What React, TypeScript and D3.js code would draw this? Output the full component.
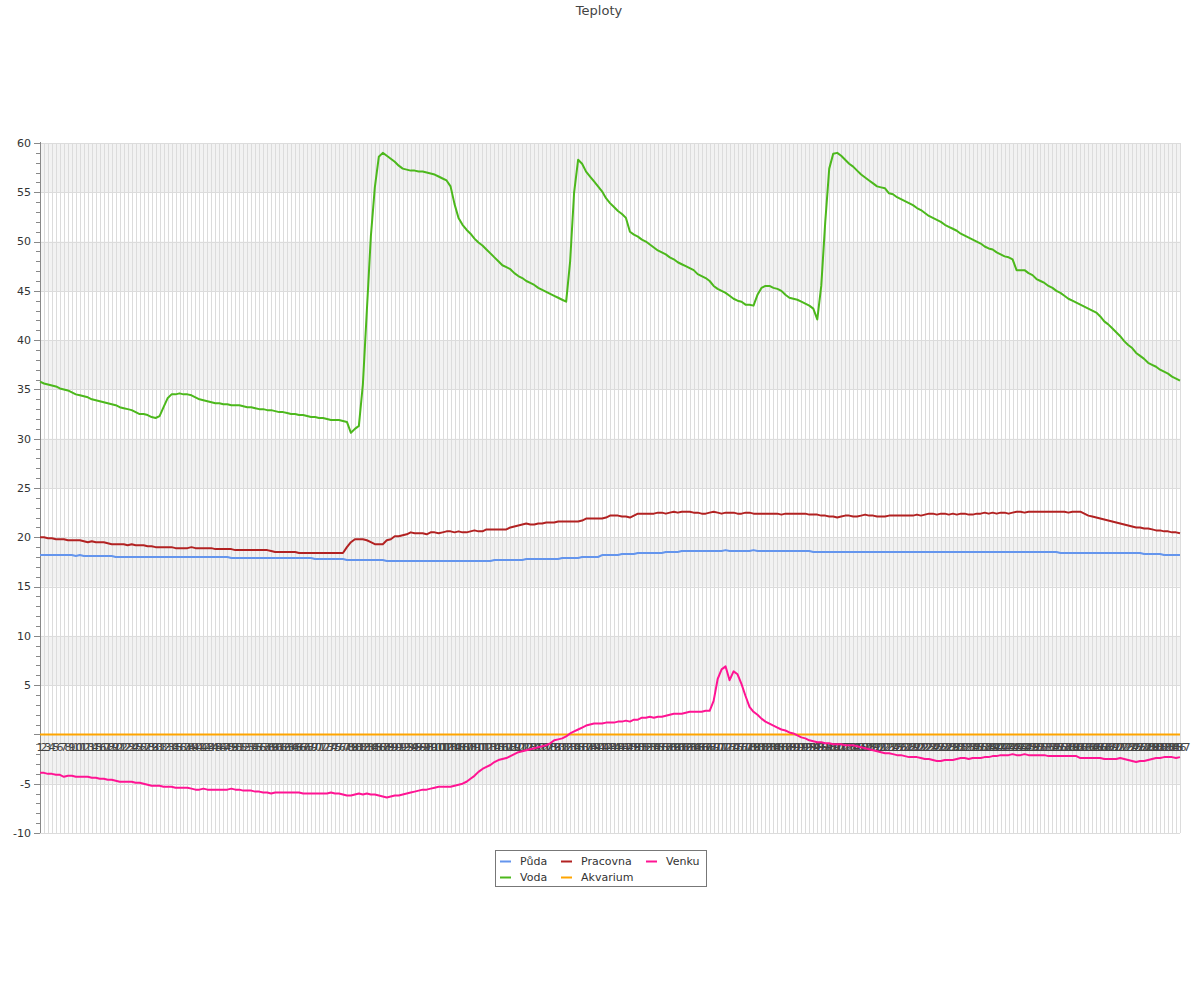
import React from "react";
import * as d3 from "d3";

const title = "Teploty";
const seriesNames = ["Půda", "Voda", "Pracovna", "Akvarium", "Venku"];
const seriesColors = ["#6495ed", "#4cb81c", "#b22222", "#ffa500", "#ff1493"];
const categories: string[] = d3.range(1, 288).map((d) => String(d));
const yTicksMajor = [-10, -5, 0, 5, 10, 15, 20, 25, 30, 35, 40, 45, 50, 55, 60];
const yLabelTicks = [-10, -5, 5, 10, 15, 20, 25, 30, 35, 40, 45, 50, 55, 60];

const puda = [
  18.2,18.2,18.2,18.2,18.2,18.2,18.2,18.2,18.2,18.1,
  18.2,18.1,18.1,18.1,18.1,18.1,18.1,18.1,18.1,18.0,
  18.0,18.0,18.0,18.0,18.0,18.0,18.0,18.0,18.0,18.0,
  18.0,18.0,18.0,18.0,18.0,18.0,18.0,18.0,18.0,18.0,
  18.0,18.0,18.0,18.0,18.0,18.0,18.0,18.0,17.9,17.9,
  17.9,17.9,17.9,17.9,17.9,17.9,17.9,17.9,17.9,17.9,
  17.9,17.9,17.9,17.9,17.9,17.9,17.9,17.9,17.9,17.8,
  17.8,17.8,17.8,17.8,17.8,17.8,17.8,17.7,17.7,17.7,
  17.7,17.7,17.7,17.7,17.7,17.7,17.7,17.6,17.6,17.6,
  17.6,17.6,17.6,17.6,17.6,17.6,17.6,17.6,17.6,17.6,
  17.6,17.6,17.6,17.6,17.6,17.6,17.6,17.6,17.6,17.6,
  17.6,17.6,17.6,17.6,17.7,17.7,17.7,17.7,17.7,17.7,
  17.7,17.7,17.8,17.8,17.8,17.8,17.8,17.8,17.8,17.8,
  17.8,17.9,17.9,17.9,17.9,17.9,18.0,18.0,18.0,18.0,
  18.0,18.2,18.2,18.2,18.2,18.2,18.3,18.3,18.3,18.3,
  18.4,18.4,18.4,18.4,18.4,18.4,18.4,18.5,18.5,18.5,
  18.5,18.6,18.6,18.6,18.6,18.6,18.6,18.6,18.6,18.6,
  18.6,18.6,18.7,18.6,18.6,18.6,18.6,18.6,18.6,18.7,
  18.6,18.6,18.6,18.6,18.6,18.6,18.6,18.6,18.6,18.6,
  18.6,18.6,18.6,18.6,18.5,18.5,18.5,18.5,18.5,18.5,
  18.5,18.5,18.5,18.5,18.5,18.5,18.5,18.5,18.5,18.5,
  18.5,18.5,18.5,18.5,18.5,18.5,18.5,18.5,18.5,18.5,
  18.5,18.5,18.5,18.5,18.5,18.5,18.5,18.5,18.5,18.5,
  18.5,18.5,18.5,18.5,18.5,18.5,18.5,18.5,18.5,18.5,
  18.5,18.5,18.5,18.5,18.5,18.5,18.5,18.5,18.5,18.5,
  18.5,18.5,18.5,18.5,18.5,18.5,18.4,18.4,18.4,18.4,
  18.4,18.4,18.4,18.4,18.4,18.4,18.4,18.4,18.4,18.4,
  18.4,18.4,18.4,18.4,18.4,18.4,18.4,18.3,18.3,18.3,
  18.3,18.3,18.2,18.2,18.2,18.2,18.2,
];

const voda = [
  35.8,35.6,35.5,35.4,35.3,35.1,35.0,34.9,34.7,34.5,
  34.4,34.3,34.2,34.0,33.9,33.8,33.7,33.6,33.5,33.4,
  33.2,33.1,33.0,32.9,32.7,32.5,32.5,32.4,32.2,32.1,
  32.3,33.2,34.1,34.5,34.5,34.6,34.5,34.5,34.4,34.2,
  34.0,33.9,33.8,33.7,33.6,33.6,33.5,33.5,33.4,33.4,
  33.4,33.3,33.2,33.2,33.1,33.0,33.0,32.9,32.9,32.8,
  32.7,32.7,32.6,32.5,32.5,32.4,32.4,32.3,32.2,32.2,
  32.1,32.1,32.0,31.9,31.9,31.9,31.8,31.7,30.6,31.0,
  31.3,35.5,43.0,50.5,55.5,58.6,59.0,58.7,58.4,58.1,
  57.7,57.4,57.3,57.2,57.2,57.1,57.1,57.0,56.9,56.8,
  56.6,56.4,56.2,55.6,53.8,52.4,51.7,51.2,50.8,50.3,
  49.9,49.6,49.2,48.8,48.4,48.0,47.6,47.4,47.2,46.8,
  46.5,46.3,46.0,45.8,45.6,45.3,45.1,44.9,44.7,44.5,
  44.3,44.1,43.9,48.0,55.0,58.3,57.9,57.1,56.6,56.1,
  55.6,55.1,54.4,53.9,53.5,53.1,52.8,52.4,51.0,50.7,
  50.5,50.2,50.0,49.7,49.4,49.1,48.9,48.7,48.4,48.2,
  47.9,47.7,47.5,47.3,47.1,46.7,46.5,46.3,46.0,45.5,
  45.2,45.0,44.8,44.5,44.2,44.0,43.9,43.6,43.6,43.5,
  44.6,45.3,45.5,45.5,45.3,45.2,45.0,44.6,44.3,44.2,
  44.1,43.9,43.7,43.5,43.2,42.1,45.5,52.0,57.4,58.9,
  59.0,58.7,58.3,57.9,57.6,57.2,56.8,56.5,56.2,55.9,
  55.6,55.5,55.4,54.9,54.8,54.5,54.3,54.1,53.9,53.7,
  53.4,53.2,52.9,52.6,52.4,52.2,52.0,51.7,51.5,51.3,
  51.1,50.8,50.6,50.4,50.2,50.0,49.8,49.5,49.3,49.2,
  48.9,48.7,48.5,48.4,48.2,47.1,47.1,47.1,46.8,46.6,
  46.2,46.0,45.8,45.5,45.3,45.0,44.8,44.5,44.2,44.0,
  43.8,43.6,43.4,43.2,43.0,42.8,42.4,41.9,41.6,41.2,
  40.8,40.4,39.9,39.5,39.2,38.7,38.4,38.1,37.7,37.5,
  37.3,37.0,36.8,36.6,36.3,36.1,35.9,
];

const pracovna = [
  20.0,20.0,19.9,19.9,19.8,19.8,19.8,19.7,19.7,19.7,
  19.7,19.6,19.5,19.6,19.5,19.5,19.5,19.4,19.3,19.3,
  19.3,19.3,19.2,19.3,19.2,19.2,19.2,19.1,19.1,19.0,
  19.0,19.0,19.0,19.0,18.9,18.9,18.9,18.9,19.0,18.9,
  18.9,18.9,18.9,18.9,18.8,18.8,18.8,18.8,18.8,18.7,
  18.7,18.7,18.7,18.7,18.7,18.7,18.7,18.7,18.6,18.5,
  18.5,18.5,18.5,18.5,18.5,18.4,18.4,18.4,18.4,18.4,
  18.4,18.4,18.4,18.4,18.4,18.4,18.4,19.0,19.5,19.8,
  19.8,19.8,19.7,19.5,19.3,19.3,19.3,19.7,19.8,20.1,
  20.1,20.2,20.3,20.5,20.4,20.4,20.4,20.3,20.5,20.5,
  20.4,20.5,20.6,20.6,20.5,20.6,20.5,20.5,20.6,20.7,
  20.6,20.6,20.8,20.8,20.8,20.8,20.8,20.8,21.0,21.1,
  21.2,21.3,21.4,21.3,21.3,21.4,21.4,21.5,21.5,21.5,
  21.6,21.6,21.6,21.6,21.6,21.6,21.7,21.9,21.9,21.9,
  21.9,21.9,22.0,22.2,22.2,22.2,22.1,22.1,22.0,22.2,
  22.4,22.4,22.4,22.4,22.4,22.5,22.5,22.4,22.5,22.6,
  22.5,22.6,22.6,22.6,22.5,22.5,22.4,22.4,22.5,22.6,
  22.5,22.4,22.5,22.5,22.5,22.4,22.4,22.5,22.5,22.4,
  22.4,22.4,22.4,22.4,22.4,22.4,22.3,22.4,22.4,22.4,
  22.4,22.4,22.4,22.3,22.3,22.3,22.2,22.2,22.1,22.1,
  22.0,22.1,22.2,22.2,22.1,22.1,22.2,22.3,22.2,22.2,
  22.1,22.1,22.1,22.2,22.2,22.2,22.2,22.2,22.2,22.2,
  22.3,22.2,22.3,22.4,22.4,22.3,22.4,22.4,22.3,22.4,
  22.3,22.4,22.4,22.3,22.3,22.4,22.4,22.5,22.4,22.5,
  22.4,22.5,22.5,22.4,22.5,22.6,22.6,22.5,22.6,22.6,
  22.6,22.6,22.6,22.6,22.6,22.6,22.6,22.6,22.5,22.6,
  22.6,22.6,22.4,22.2,22.1,22.0,21.9,21.8,21.7,21.6,
  21.5,21.4,21.3,21.2,21.1,21.0,21.0,20.9,20.9,20.8,
  20.7,20.7,20.6,20.6,20.5,20.5,20.4,
];

const akvarium = [
  0,0,0,0,0,0,0,0,0,0, 0,0,0,0,0,0,0,0,0,0, 0,0,0,0,0,0,0,0,0,0,
  0,0,0,0,0,0,0,0,0,0, 0,0,0,0,0,0,0,0,0,0, 0,0,0,0,0,0,0,0,0,0,
  0,0,0,0,0,0,0,0,0,0, 0,0,0,0,0,0,0,0,0,0, 0,0,0,0,0,0,0,0,0,0,
  0,0,0,0,0,0,0,0,0,0, 0,0,0,0,0,0,0,0,0,0, 0,0,0,0,0,0,0,0,0,0,
  0,0,0,0,0,0,0,0,0,0, 0,0,0,0,0,0,0,0,0,0, 0,0,0,0,0,0,0,0,0,0,
  0,0,0,0,0,0,0,0,0,0, 0,0,0,0,0,0,0,0,0,0, 0,0,0,0,0,0,0,0,0,0,
  0,0,0,0,0,0,0,0,0,0, 0,0,0,0,0,0,0,0,0,0, 0,0,0,0,0,0,0,0,0,0,
  0,0,0,0,0,0,0,0,0,0, 0,0,0,0,0,0,0,0,0,0, 0,0,0,0,0,0,0,0,0,0,
  0,0,0,0,0,0,0,0,0,0, 0,0,0,0,0,0,0,0,0,0, 0,0,0,0,0,0,0,0,0,0,
  0,0,0,0,0,0,0,0,0,0, 0,0,0,0,0,0,0,
];

const venku = [
  -3.9,-3.9,-4.0,-4.0,-4.1,-4.1,-4.3,-4.2,-4.2,-4.3,
  -4.3,-4.3,-4.3,-4.4,-4.4,-4.5,-4.5,-4.6,-4.6,-4.7,
  -4.8,-4.8,-4.8,-4.8,-4.9,-4.9,-5.0,-5.1,-5.2,-5.2,
  -5.2,-5.3,-5.3,-5.3,-5.4,-5.4,-5.4,-5.4,-5.5,-5.6,
  -5.6,-5.5,-5.6,-5.6,-5.6,-5.6,-5.6,-5.6,-5.5,-5.6,
  -5.6,-5.7,-5.7,-5.7,-5.8,-5.8,-5.9,-5.9,-6.0,-5.9,
  -5.9,-5.9,-5.9,-5.9,-5.9,-5.9,-6.0,-6.0,-6.0,-6.0,
  -6.0,-6.0,-6.0,-5.9,-6.0,-6.0,-6.1,-6.2,-6.2,-6.1,
  -6.0,-6.1,-6.0,-6.1,-6.1,-6.2,-6.3,-6.4,-6.3,-6.2,
  -6.2,-6.1,-6.0,-5.9,-5.8,-5.7,-5.6,-5.6,-5.5,-5.4,
  -5.3,-5.3,-5.3,-5.3,-5.2,-5.1,-5.0,-4.8,-4.5,-4.2,
  -3.8,-3.5,-3.3,-3.1,-2.8,-2.6,-2.5,-2.4,-2.2,-2.0,
  -1.8,-1.7,-1.6,-1.5,-1.4,-1.3,-1.2,-1.1,-0.9,-0.6,
  -0.5,-0.4,-0.2,0.1,0.3,0.5,0.7,0.9,1.0,1.1,
  1.1,1.1,1.2,1.2,1.2,1.3,1.3,1.4,1.3,1.5,
  1.5,1.7,1.7,1.8,1.7,1.8,1.8,1.9,2.0,2.1,
  2.1,2.1,2.2,2.3,2.3,2.3,2.3,2.4,2.4,3.4,
  5.6,6.6,6.9,5.5,6.4,6.1,5.1,3.9,2.8,2.3,
  2.0,1.6,1.3,1.1,0.9,0.7,0.5,0.4,0.2,0.1,
  -0.1,-0.3,-0.4,-0.6,-0.7,-0.8,-0.8,-0.9,-0.9,-1.0,
  -1.0,-1.0,-1.1,-1.1,-1.1,-1.2,-1.3,-1.4,-1.5,-1.6,
  -1.7,-1.8,-1.9,-1.9,-2.0,-2.1,-2.1,-2.2,-2.3,-2.3,
  -2.3,-2.4,-2.5,-2.5,-2.6,-2.7,-2.7,-2.6,-2.6,-2.6,
  -2.5,-2.4,-2.4,-2.5,-2.4,-2.4,-2.4,-2.3,-2.3,-2.2,
  -2.2,-2.1,-2.1,-2.1,-2.0,-2.1,-2.1,-2.0,-2.1,-2.1,
  -2.1,-2.1,-2.1,-2.2,-2.2,-2.2,-2.2,-2.2,-2.2,-2.2,
  -2.2,-2.4,-2.4,-2.4,-2.4,-2.4,-2.4,-2.5,-2.5,-2.5,
  -2.5,-2.4,-2.5,-2.6,-2.7,-2.8,-2.7,-2.7,-2.6,-2.5,
  -2.4,-2.4,-2.3,-2.3,-2.3,-2.4,-2.3,
];

const seriesValues = [puda, voda, pracovna, akvarium, venku];

const W = 1200;
const H = 1000;
const left = 40;
const right = 1180;
const top = 143;
const bottom = 833;
const FONT = "DejaVu Sans, Verdana, sans-serif";

export default function App() {
  const x = d3
    .scalePoint<string>()
    .domain(categories)
    .range([left, right]);
  const y = d3.scaleLinear().domain([-10, 60]).range([bottom, top]);

  const bands = d3.range(-10, 60, 5).filter((v) => Math.round((v + 10) / 5) % 2 === 1);
  const minorTicks = d3.range(-10, 61, 1).filter((v) => v % 5 !== 0);

  const line = d3
    .line<number>()
    .x((_, i) => x(categories[i]) as number)
    .y((d) => y(d));

  const legendCols = [
    { x: 500, items: [0, 1] },
    { x: 561, items: [2, 3] },
    { x: 646, items: [4] },
  ];

  return (
    <svg
      width={W}
      height={H}
      style={{ position: "absolute", left: 0, top: 0, background: "#fff" }}
      fontFamily={FONT}
    >
      <rect x={0} y={0} width={W} height={H} fill="#fff" />
      <text x={599} y={15} textAnchor="middle" fontSize={13} fill="#444">
        {title}
      </text>

      {/* bands */}
      {bands.map((v) => (
        <rect
          key={"b" + v}
          x={left}
          y={y(v + 5)}
          width={right - left}
          height={y(v) - y(v + 5)}
          fill="#f2f2f2"
        />
      ))}

      {/* vertical grid */}
      {categories.map((c) => (
        <line
          key={"v" + c}
          x1={Math.round(x(c) as number) + 0.5}
          x2={Math.round(x(c) as number) + 0.5}
          y1={top}
          y2={bottom}
          stroke="#dcdcdc"
          strokeWidth={1}
        />
      ))}

      {/* horizontal grid */}
      {yTicksMajor.map((v) => (
        <line
          key={"h" + v}
          x1={left}
          x2={right}
          y1={Math.round(y(v)) + 0.5}
          y2={Math.round(y(v)) + 0.5}
          stroke="#dcdcdc"
          strokeWidth={1}
        />
      ))}

      {/* y axis */}
      <line x1={40.5} x2={40.5} y1={top - 1} y2={bottom} stroke="#888" strokeWidth={1} />
      {yTicksMajor.map((v) => (
        <line
          key={"mt" + v}
          x1={34}
          x2={40}
          y1={Math.round(y(v)) + 0.5}
          y2={Math.round(y(v)) + 0.5}
          stroke="#888"
        />
      ))}
      {minorTicks.map((v) => (
        <line
          key={"nt" + v}
          x1={36}
          x2={40}
          y1={Math.round(y(v)) + 0.5}
          y2={Math.round(y(v)) + 0.5}
          stroke="#888"
        />
      ))}
      {yLabelTicks.map((v) => (
        <text
          key={"yl" + v}
          x={31}
          y={y(v)}
          dy="0.35em"
          textAnchor="end"
          fontSize={11}
          fill="#333"
        >
          {v}
        </text>
      ))}

      {/* x labels at zero line */}
      {categories.map((c) => (
        <text
          key={"xl" + c}
          x={x(c) as number}
          y={y(0) + 17}
          textAnchor="middle"
          fontSize={11}
          fill="#444"
        >
          {c}
        </text>
      ))}

      {/* series */}
      {seriesValues.map((vals, si) => (
        <path
          key={"s" + si}
          d={line(vals) || ""}
          fill="none"
          stroke={seriesColors[si]}
          strokeWidth={2}
          strokeLinejoin="round"
        />
      ))}

      {/* legend */}
      <rect x={495.5} y={850.5} width={211} height={36} fill="#fff" stroke="#777" strokeWidth={1} />
      {legendCols.map((col) =>
        col.items.map((si, ri) => (
          <g key={"lg" + si}>
            <line
              x1={col.x}
              x2={col.x + 11}
              y1={861.5 + ri * 16}
              y2={861.5 + ri * 16}
              stroke={seriesColors[si]}
              strokeWidth={2}
            />
            <text x={col.x + 20} y={861.5 + ri * 16} dy="0.35em" fontSize={11} fill="#333">
              {seriesNames[si]}
            </text>
          </g>
        ))
      )}
    </svg>
  );
}
